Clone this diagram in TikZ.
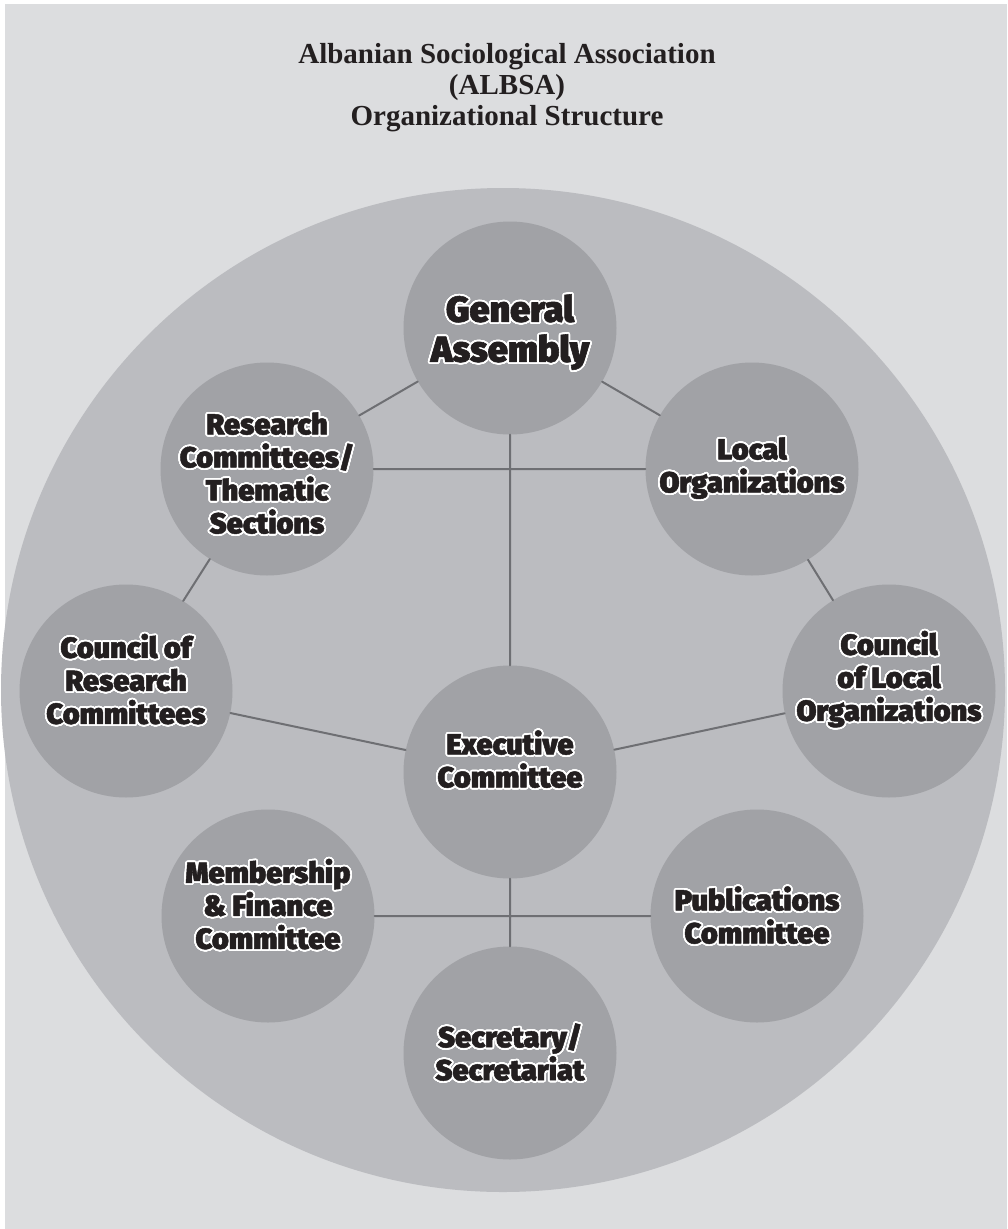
\documentclass[tikz,border=0pt]{standalone}
\usepackage{fontspec}
\setmainfont{Liberation Serif}
\newfontfamily\heavyfont{Fira Sans Black}[FakeBold=1.6]
\usepackage{contour}
\contourlength{1.8pt}
\contournumber{32}
\definecolor{pageGray}{RGB}{220,221,223}
\definecolor{ringGray}{RGB}{187,188,192}
\definecolor{unitGray}{RGB}{161,162,166}
\definecolor{lineGray}{RGB}{110,111,115}
\definecolor{inkBlack}{RGB}{35,31,32}
\newcommand{\ctx}[1]{\contour{white}{#1}}% white rim round the letters
\tikzset{
  unit/.style={circle,fill=unitGray,minimum size=213pt,inner sep=0pt},
  unittext/.style={font=\heavyfont\fontsize{29}{33}\selectfont,align=center,text=inkBlack},
  link/.style={draw=lineGray,line width=2pt}
}
\begin{document}
\begin{tikzpicture}[x=1pt,y=-1pt,line join=round,line cap=round]% Organigram
    \useasboundingbox (0,0) rectangle (1007,1229);
    \fill[pageGray] (5,4) rectangle (1007,1229);% page
    \fill[ringGray] (503,690) circle (502);% big circle
    \node[font=\bfseries\fontsize{29}{31}\selectfont,align=center,text=inkBlack] (title) at (507,88)
        {Albanian Sociological Association\\(ALBSA)\\Organizational Structure};
    % units
    \foreach \n/\p in {ga/{510,328},rc/{267,469},lo/{752,469},crc/{126,691},clo/{889,691},
                       ec/{510,772},mf/{268,916},pc/{757,916},ss/{510,1053}}
        \node[unit] (\n) at (\p) {};
    % connectors
    \draw[link] (ga)--(rc) (ga)--(lo) (rc)--(lo) (rc)--(crc) (lo)--(clo);
    \draw[link] (ga)--(ec) (crc)--(ec) (ec)--(clo) (ec)--(ss) (mf)--(pc);
    % labels
    \node[unittext,font=\heavyfont\fontsize{36}{40}\selectfont] (ga-t) at ([yshift=-5pt]ga) {\ctx{General}\\\ctx{Assembly}};
    \node[unittext] (rc-t) at ([yshift=-5pt]rc) {\ctx{Research}\\\ctx{Committees/}\\\ctx{Thematic}\\\ctx{Sections}};
    \node[unittext] (lo-t) at (lo) {\ctx{Local}\\\ctx{Organizations}};
    \node[unittext] (crc-t) at ([yshift=11pt]crc) {\ctx{Council of}\\\ctx{Research}\\\ctx{Committees}};
    \node[unittext] (clo-t) at ([yshift=11pt]clo) {\ctx{Council}\\\ctx{of Local}\\\ctx{Organizations}};
    \node[unittext] (ec-t) at ([yshift=12pt]ec) {\ctx{Executive}\\\ctx{Committee}};
    \node[unittext] (mf-t) at ([yshift=11pt]mf) {\ctx{Membership}\\\ctx{\& Finance}\\\ctx{Committee}};
    \node[unittext] (pc-t) at (pc) {\ctx{Publications}\\\ctx{Committee}};
    \node[unittext] (ss-t) at (ss) {\ctx{Secretary/}\\\ctx{Secretariat}};
\end{tikzpicture}
\end{document}
